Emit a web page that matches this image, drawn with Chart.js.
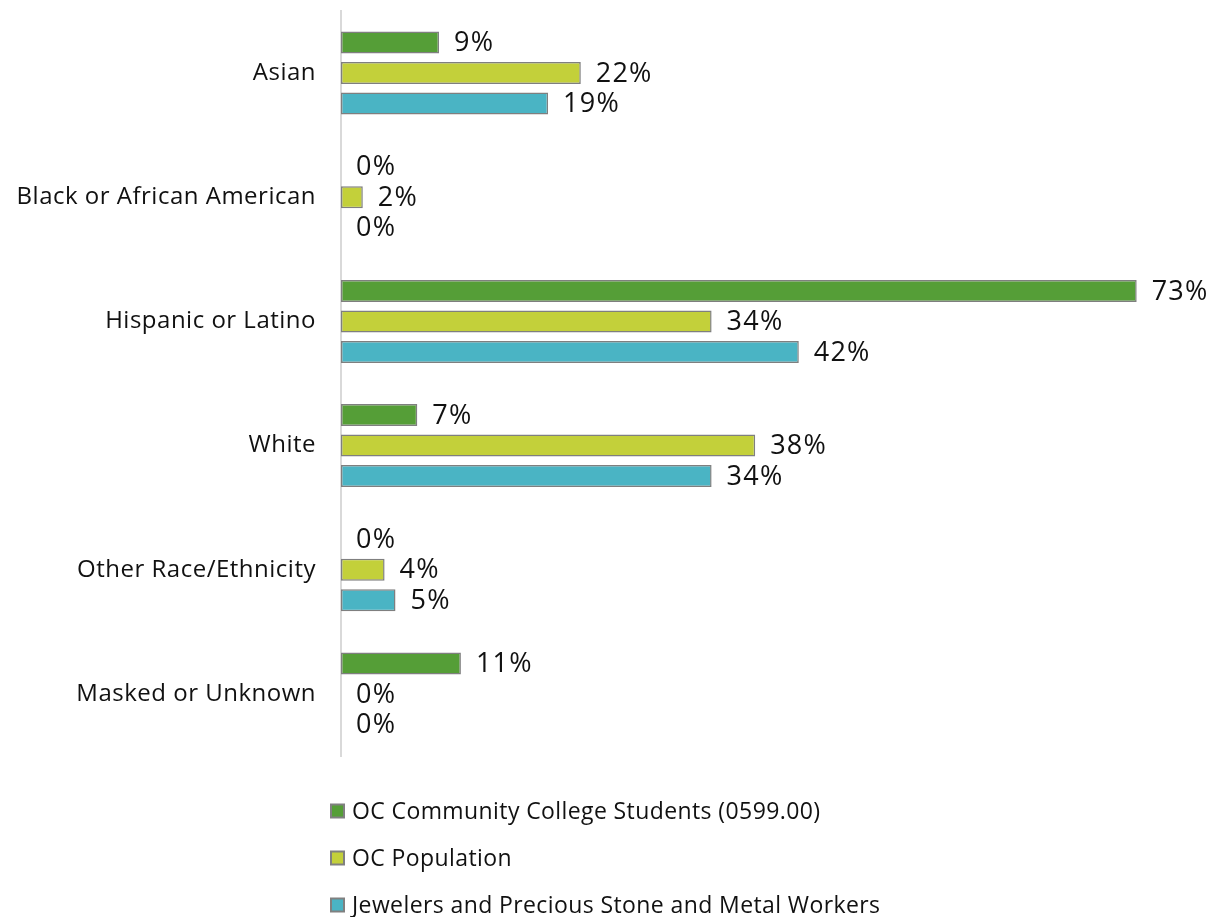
<!DOCTYPE html>
<html>
<head>
<meta charset="utf-8">
<script src="https://cdn.jsdelivr.net/npm/chart.js@4/dist/chart.umd.min.js"></script>
<style>
  html, body { margin: 0; padding: 0; background: #fff; }
  #wrap { position: relative; width: 1215px; height: 917px; }
</style>
</head>
<body>
<div id="wrap"><canvas id="c" width="1215" height="917"></canvas></div>
<script>
const categories = ['Asian', 'Black or African American', 'Hispanic or Latino', 'White', 'Other Race/Ethnicity', 'Masked or Unknown'];
const students = [9, 0, 73, 7, 0, 11];
const population = [22, 2, 34, 38, 4, 0];
const workers = [19, 0, 42, 34, 5, 0];
const seriesNames = ['OC Community College Students (0599.00)', 'OC Population', 'Jewelers and Precious Stone and Metal Workers'];
const seriesColors = ['#559E37', '#C3D03A', '#4AB4C4'];

const FONT = '"Open Sans", "DejaVu Sans", sans-serif';
const TEXT = '#111111';
const SPACING = '0.5px';

// Slightly open letter spacing for all canvas text
const textSpacing = {
  id: 'textSpacing',
  beforeInit(chart) { chart.ctx.letterSpacing = SPACING; },
  beforeUpdate(chart) { chart.ctx.letterSpacing = SPACING; },
  beforeDraw(chart) { chart.ctx.letterSpacing = SPACING; }
};

// Percent labels placed just past the end of each bar
const valueLabels = {
  id: 'valueLabels',
  afterDatasetsDraw(chart) {
    const ctx = chart.ctx;
    ctx.save();
    ctx.font = '27px ' + FONT;
    ctx.letterSpacing = '1.2px';
    ctx.fillStyle = TEXT;
    ctx.textAlign = 'left';
    ctx.textBaseline = 'middle';
    chart.data.datasets.forEach((ds, i) => {
      const meta = chart.getDatasetMeta(i);
      meta.data.forEach((bar, j) => {
        ctx.fillText(ds.data[j] + '%', bar.x + 15, bar.y + 1);
      });
    });
    ctx.restore();
  }
};

// Stacked legend rows beneath the plot
const stackedLegend = {
  id: 'stackedLegend',
  afterDraw(chart) {
    const ctx = chart.ctx;
    const x0 = chart.chartArea.left - 11;
    const rows = [811, 858, 905];
    ctx.save();
    ctx.font = '23px ' + FONT;
    ctx.letterSpacing = '0.4px';
    ctx.textBaseline = 'middle';
    chart.data.datasets.forEach((ds, i) => {
      const y = rows[i];
      ctx.fillStyle = ds.backgroundColor;
      ctx.fillRect(x0 + 1, y - 6.5, 13, 13);
      ctx.strokeStyle = '#808080';
      ctx.lineWidth = 2;
      ctx.strokeRect(x0 + 1, y - 6.5, 13, 13);
      ctx.fillStyle = TEXT;
      ctx.fillText(ds.label, x0 + 22, y + 1);
    });
    ctx.restore();
  }
};

new Chart(document.getElementById('c'), {
  type: 'bar',
  data: {
    labels: categories,
    datasets: [
      { label: seriesNames[0], data: students, backgroundColor: seriesColors[0] },
      { label: seriesNames[1], data: population, backgroundColor: seriesColors[1] },
      { label: seriesNames[2], data: workers, backgroundColor: seriesColors[2] }
    ].map(d => Object.assign(d, {
      borderColor: '#7f7f7f',
      borderWidth: 1.5,
      borderSkipped: false,
      categoryPercentage: 0.737,
      barPercentage: 0.72
    }))
  },
  options: {
    indexAxis: 'y',
    responsive: false,
    animation: false,
    layout: { padding: { left: 0, right: 2, top: 11, bottom: 161 } },
    plugins: {
      legend: { display: false },
      tooltip: { enabled: false }
    },
    scales: {
      x: {
        display: false,
        min: 0,
        max: 80
      },
      y: {
        grid: { display: false },
        border: { display: true, color: '#d9d9d9', width: 2 },
        ticks: {
          color: TEXT,
          font: { family: FONT, size: 24 },
          padding: 17
        },
        afterFit(scale) {
          scale.width = 341;
          scale.paddingTop = 0;
          scale.paddingBottom = 0;
        }
      }
    }
  },
  plugins: [textSpacing, valueLabels, stackedLegend]
});
</script>
</body>
</html>
